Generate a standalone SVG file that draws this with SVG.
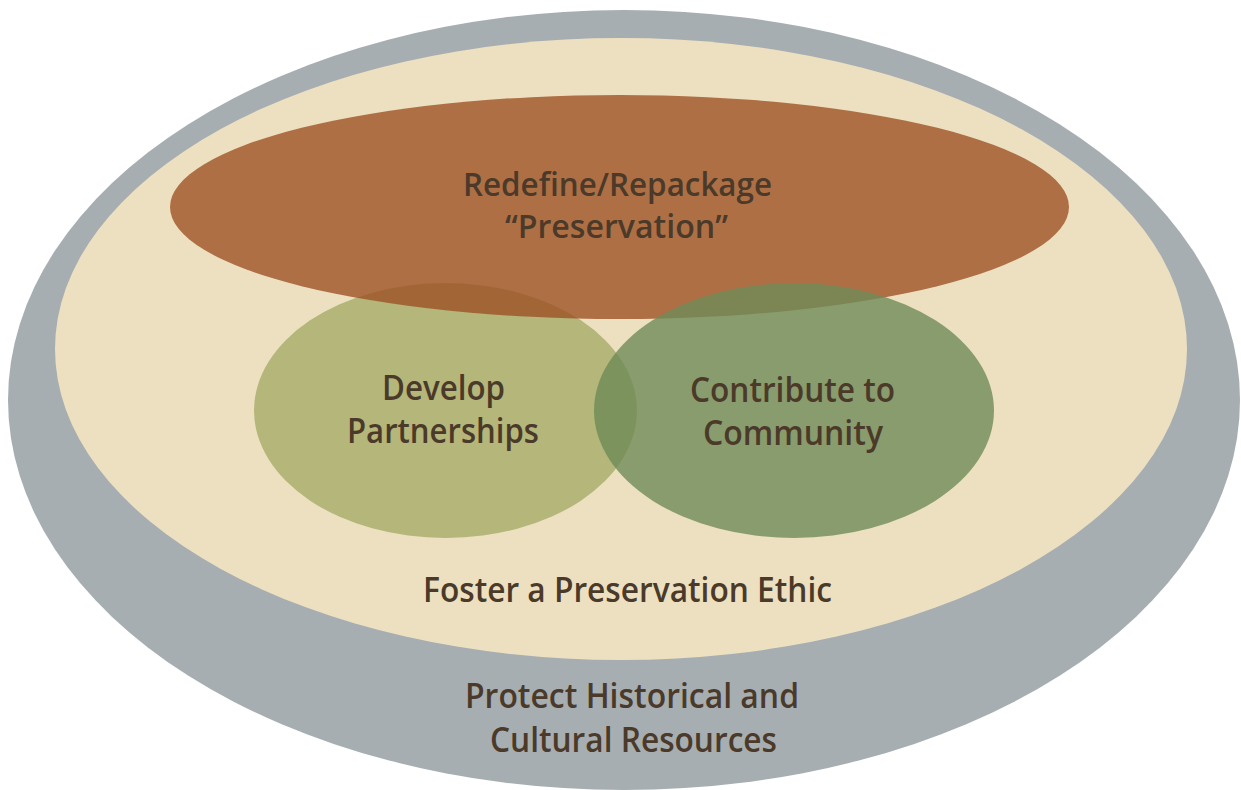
<svg xmlns="http://www.w3.org/2000/svg" width="1241" height="790" viewBox="0 0 1241 790">
<style>
  text { font-family: "Open Sans", "Noto Sans", "Liberation Sans", sans-serif; font-size: 34px; font-weight: 600; fill: #4b3a29; text-anchor: middle; }
  .tight { font-size: 33px; }
</style>
<rect width="1241" height="790" fill="#ffffff"/>
<g id="protect">
  <ellipse cx="624" cy="400" rx="616" ry="390" fill="#a6aeb2"/>
  <text x="632" y="708" textLength="334" lengthAdjust="spacingAndGlyphs">Protect Historical and</text>
  <text x="633.5" y="752" textLength="287" lengthAdjust="spacingAndGlyphs">Cultural Resources</text>
</g>
<g id="foster">
  <ellipse cx="621" cy="349" rx="566" ry="311" fill="#ede0c0"/>
  <text x="627.5" y="602" textLength="409" lengthAdjust="spacingAndGlyphs">Foster a Preservation Ethic</text>
</g>
<g id="develop">
  <ellipse cx="445.5" cy="410.5" rx="191.5" ry="127.5" fill="#b4b67a"/>
</g>
<g id="redefine">
  <ellipse cx="619.5" cy="207" rx="449.5" ry="112" fill="#9e5226" fill-opacity="0.8"/>
  <text class="tight" x="617.5" y="196" textLength="309" lengthAdjust="spacingAndGlyphs">Redefine/Repackage</text>
  <text class="tight" x="616.5" y="238" textLength="223" lengthAdjust="spacingAndGlyphs">“Preservation”</text>
</g>
<g id="contribute">
  <ellipse cx="794" cy="410.5" rx="200" ry="127.5" fill="#6f8b57" fill-opacity="0.8"/>
  <text x="792.5" y="402" textLength="205" lengthAdjust="spacingAndGlyphs">Contribute to</text>
  <text x="793" y="445" textLength="180" lengthAdjust="spacingAndGlyphs">Community</text>
</g>
<g id="develop-label">
  <text x="443.5" y="400" textLength="123" lengthAdjust="spacingAndGlyphs">Develop</text>
  <text x="443" y="443" textLength="192" lengthAdjust="spacingAndGlyphs">Partnerships</text>
</g>
<g id="connectors"></g>
</svg>
